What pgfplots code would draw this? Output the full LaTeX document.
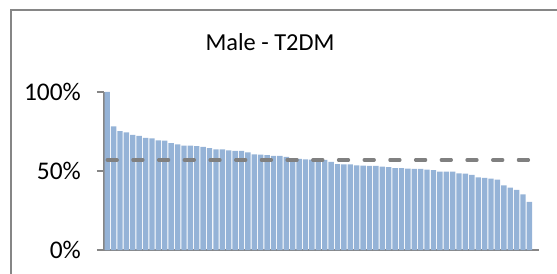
\documentclass[border=0pt]{standalone}
\usepackage{fontspec}
\setmainfont{Carlito}
\usepackage{pgfplots}
\usepackage{pgfplotstable}
\pgfplotsset{compat=1.18}
\definecolor{barblue}{HTML}{95B3D7}
\definecolor{axgray}{HTML}{868686}
\definecolor{dashgray}{HTML}{808080}
\pgfplotstableread{
x y
1 100
2 78.3
3 75.3
4 74.5
5 72.8
6 72.2
7 70.9
8 70.7
9 69.4
10 69.2
11 67.7
12 66.9
13 66.0
14 66.0
15 65.8
16 65.2
17 64.4
18 63.7
19 63.7
20 63.1
21 62.7
22 62.7
23 61.8
24 60.5
25 60.3
26 60.1
27 59.5
28 59.5
29 58.9
30 58.0
31 57.6
32 57.4
33 57.2
34 57.0
35 57.0
36 55.7
37 54.4
38 54.2
39 54.2
40 53.6
41 53.4
42 53.2
43 53.2
44 52.7
45 52.5
46 51.9
47 51.9
48 51.5
49 51.3
50 51.3
51 50.8
52 50.6
53 49.6
54 49.6
55 49.6
56 48.5
57 48.3
58 47.5
59 46.0
60 45.6
61 45.1
62 44.5
63 40.9
64 39.5
65 38.0
66 35.2
67 30.4
}\datatable
\begin{document}
\begin{tikzpicture}[x=1bp,y=1bp]
\path[use as bounding box] (-104,-23) rectangle (453,250);
\draw[axgray, line width=1.2bp] (-93,-30) -- (-93,240) -- (460,240);
\begin{axis}[
  at={(0bp,0bp)}, anchor=south west,
  scale only axis, width=435bp, height=158bp,
  xmin=0.5, xmax=68.5, ymin=0, ymax=100,
  axis x line*=bottom, axis y line*=left,
  axis line style={axgray, line width=1.2bp},
  xtick=\empty,
  ytick={0,50,100}, yticklabels={0\%,50\%,100\%},
  tick align=outside, major tick length=7bp,
  tick style={axgray, line width=1.2bp},
  y tick label style={font=\fontsize{25.5}{25.5}\selectfont, inner sep=0pt, xshift=-16bp},
  /pgf/number format/assume math mode=true,
  clip=false,
]
\addplot[ybar, bar width=0.84, fill=barblue, draw=none] table[x=x,y=y] {\datatable};
\addplot[dashgray, line width=3.3bp, dash pattern=on 10bp off 15.7bp, line cap=round] coordinates {(1,57) (67,57)};
\end{axis}
\node[font=\fontsize{24.5}{24.5}\selectfont] at (166,208) {Male - T2DM};
\end{tikzpicture}
\end{document}
